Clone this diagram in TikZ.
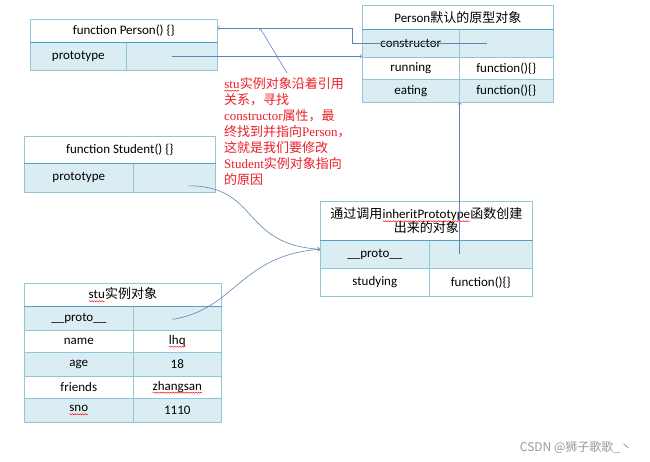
\documentclass[tikz,border=0pt]{standalone}
\usepackage{fontspec}
\usetikzlibrary{decorations.pathmorphing}
\setmainfont{Carlito}
\newfontfamily\cjk{Noto Sans CJK SC}
\newfontfamily\notelatin{Liberation Serif}
\definecolor{gridline}{RGB}{146,198,214}
\definecolor{hdrline}{RGB}{75,165,195}
\definecolor{rowblue}{RGB}{218,237,243}
\definecolor{linkblue}{RGB}{95,130,185}
\definecolor{notered}{RGB}{235,30,40}
\newcommand{\squig}[1]{\tikz[baseline=(w.base)]{\node[inner sep=0pt, outer sep=0pt, minimum width=0pt,
    minimum height=0pt, draw=none, fill=none, anchor=base, align=left] (w) {#1};
  \draw[red, line width=0.4pt, decorate, decoration={snake, amplitude=0.6pt, segment length=2.5pt}]
  ([yshift=-2.5pt]w.base west) -- ([yshift=-2.5pt]w.base east);}}
\tikzset{
  cell/.style={draw=gridline, line width=0.6pt, inner sep=0pt, anchor=north west,
    text=black, font=\fontsize{13}{16}\selectfont},
  blue/.style={fill=rowblue},
  hdr/.style={draw=hdrline, line width=1.4pt},
  link/.style={draw=linkblue, line width=0.6pt}
}
\begin{document}
\begin{tikzpicture}[x=1pt,y=-1pt]
\useasboundingbox (0,0) rectangle (650,461);
% function Person
\node[cell, minimum width=187pt, minimum height=23pt] (phdr) at (30,19) {function Person() \{\}};
\node[cell, blue, minimum width=96pt, minimum height=28pt] (pkey) at (30,42) {prototype};
\node[cell, blue, minimum width=91pt, minimum height=28pt] (pval) at (126,42) {};
\draw[hdr] (phdr.south west) -- (phdr.south east);
% Person prototype object
\node[cell, minimum width=191pt, minimum height=24pt] (ohdr) at (362,5) {Person{\cjk 默认的原型对象}};
\node[cell, blue, minimum width=97pt, minimum height=28pt] (ckey) at (362,29) {constructor};
\node[cell, blue, minimum width=94pt, minimum height=28pt] (cval) at (459,29) {};
\node[cell, minimum width=97pt, minimum height=22pt] (rkey) at (362,57) {running};
\node[cell, minimum width=94pt, minimum height=22pt] (rval) at (459,57) {function()\{\}};
\node[cell, blue, minimum width=97pt, minimum height=23pt] (ekey) at (362,79) {eating};
\node[cell, blue, minimum width=94pt, minimum height=23pt] (eval) at (459,79) {function()\{\}};
\draw[hdr] (ohdr.south west) -- (ohdr.south east);
% function Student
\node[cell, minimum width=191pt, minimum height=27pt] (shdr) at (24,136) {function Student() \{\}};
\node[cell, blue, minimum width=109pt, minimum height=29pt] (skey) at (24,163) {prototype};
\node[cell, blue, minimum width=82pt, minimum height=29pt] (sval) at (133,163) {};
\draw[hdr] (shdr.south west) -- (shdr.south east);
% object made by inheritPrototype
\node[cell, align=center, minimum width=212pt, minimum height=39pt] (mhdr) at (320,201)
  {{\cjk 通过调用}\squig{inheritPrototype}{\cjk 函数创建}\\[-2pt]{\cjk 出来的对象}};
\node[cell, blue, minimum width=109pt, minimum height=28pt] (mkey) at (320,240) {\_\_proto\_\_};
\node[cell, blue, minimum width=103pt, minimum height=28pt] (mval) at (429,240) {};
\node[cell, minimum width=109pt, minimum height=28pt] (tkey) at (320,268) {studying};
\node[cell, minimum width=103pt, minimum height=28pt] (tval) at (429,268) {function()\{\}};
\draw[hdr] (mhdr.south west) -- (mhdr.south east);
% stu instance
\node[cell, minimum width=197pt, minimum height=23pt] (uhdr) at (24,283) {\squig{stu}{\cjk 实例对象}};
\node[cell, blue, minimum width=109pt, minimum height=24pt] (ukey) at (24,306) {\_\_proto\_\_};
\node[cell, blue, minimum width=88pt, minimum height=24pt] (uval) at (133,306) {};
\node[cell, minimum width=109pt, minimum height=22pt] (nkey) at (24,330) {name};
\node[cell, minimum width=88pt, minimum height=22pt] (nval) at (133,330) {\squig{lhq}};
\node[cell, blue, minimum width=109pt, minimum height=24pt] (akey) at (24,352) {age};
\node[cell, blue, minimum width=88pt, minimum height=24pt] (aval) at (133,352) {18};
\node[cell, minimum width=109pt, minimum height=22pt] (fkey) at (24,376) {friends};
\node[cell, minimum width=88pt, minimum height=22pt] (fval) at (133,376) {\squig{zhangsan}};
\node[cell, blue, minimum width=109pt, minimum height=24pt] (qkey) at (24,398) {\squig{sno}};
\node[cell, blue, minimum width=88pt, minimum height=24pt] (qval) at (133,398) {1110};
\draw[hdr] (uhdr.south west) -- (uhdr.south east);
% red note
\node[anchor=north west, inner sep=0pt, align=left, text=notered,
  font=\notelatin\fontsize{13}{16}\selectfont] (note) at (224,77)
  {\squig{stu}{\cjk 实例对象沿着引用}\\
   {\cjk 关系，寻找}\\
   constructor{\cjk 属性，最}\\
   {\cjk 终找到并指向}Person{\cjk ，}\\
   {\cjk 这就是我们要修改}\\
   Student{\cjk 实例对象指向}\\
   {\cjk 的原因}};
\coordinate (hit) at (260,28);
% links
\draw[link,->] (pval.center) -- (pval.center -| ckey.west);
\draw[link,->] ([xshift=-19pt]cval.center) -- ([xshift=-10pt]ckey.west) |- ([yshift=3pt]phdr.east);
\draw[link,->] ([xshift=63pt,yshift=4pt]note.north west) -- (hit);
\draw[link,->] (ekey.south east |- mval.center) -- (ekey.south east);
\draw[link,->] ([shift={(14pt,-8pt)}]sval.center) .. controls (260,186) and (240,244) .. ([yshift=5pt]mkey.west);
\draw[link,->] ([shift={(-5pt,-1pt)}]uval.center) .. controls (235,310) and (240,255) .. ([yshift=5pt]mkey.west);
% watermark
\node[text=black!40, font=\cjk\fontsize{12}{14}\selectfont] (mark) at (576,447) {CSDN @狮子歌歌\_丶};
\end{tikzpicture}
\end{document}
